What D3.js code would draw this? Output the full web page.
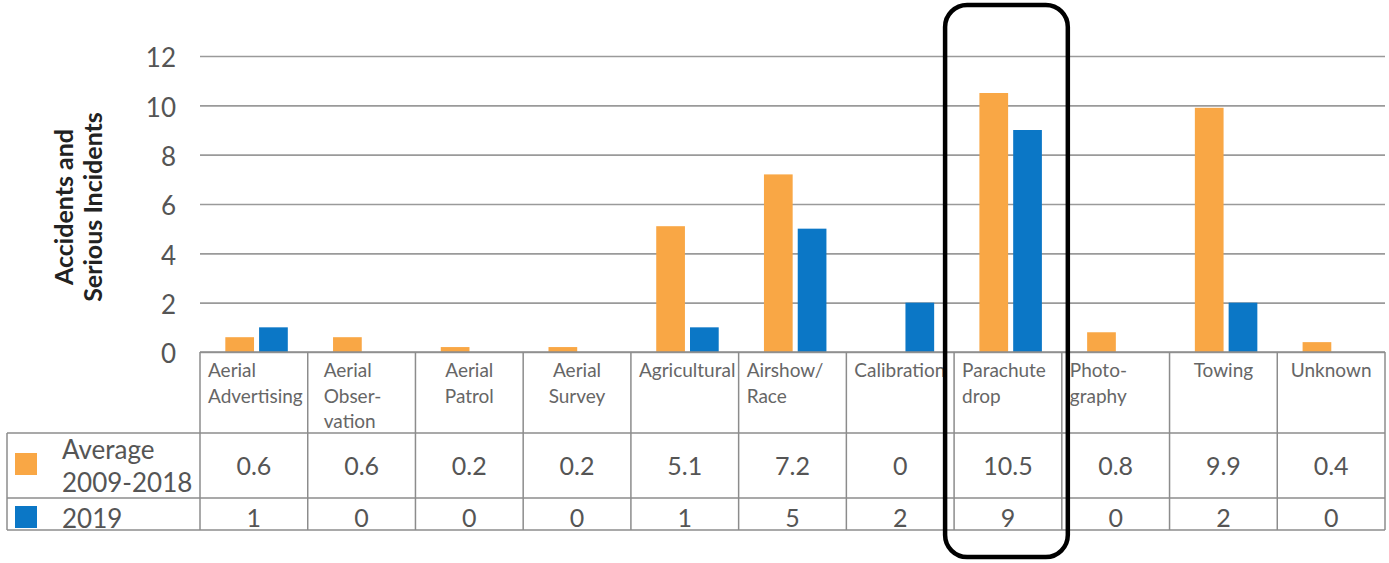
<!DOCTYPE html>
<html>
<meta charset="UTF-8">
<script src="https://d3js.org/d3.v7.min.js"></script>
<style>
  body { margin: 0; background: #fff; }
  text { font-family: Lato, "Open Sans", sans-serif; }
</style>
<body>
<svg id="ch" width="1389" height="563"></svg>
<script>

// data
var categories = ["Aerial Advertising", "Aerial Observation", "Aerial Patrol", "Aerial Survey",
  "Agricultural", "Airshow/Race", "Calibration", "Parachute drop", "Photography", "Towing", "Unknown"];
var headerLines = [["Aerial", "Advertising"], ["Aerial", "Obser-", "vation"], ["Aerial", "Patrol"],
  ["Aerial", "Survey"], ["Agricultural"], ["Airshow/", "Race"], ["Calibration"], ["Parachute", "drop"],
  ["Photo-", "graphy"], ["Towing"], ["Unknown"]];
var avg2009_2018 = [0.6, 0.6, 0.2, 0.2, 5.1, 7.2, 0, 10.5, 0.8, 9.9, 0.4];
var y2019 = [1, 0, 0, 0, 1, 5, 2, 9, 0, 2, 0];
var seriesNames = ["Average 2009-2018", "2019"];
var yTicks = [0, 2, 4, 6, 8, 10, 12];
var highlighted = "Parachute drop";

var colors = ["#F9A745", "#0B77C6"];
var lineCol = "#8c8c8c";

var svg = d3.select("#ch");

var left = 200, right = 1385;
var y0 = 352, row1 = 433, row2 = 498, bottom = 530;

var x = d3.scaleBand().domain(categories).range([left, right]).padding(0);
var bw = x.bandwidth();
var x1 = d3.scaleBand().domain(seriesNames).range([bw * 0.235, bw * 0.815]).paddingInner(0.15);
var y = d3.scaleLinear().domain([0, 12]).range([y0, 56]);

// gridlines + tick labels
var yAxis = svg.append("g")
  .attr("transform", "translate(" + left + ",0)")
  .call(d3.axisLeft(y).tickValues(yTicks).tickSize(-(right - left)).tickPadding(24));
yAxis.select(".domain").remove();
yAxis.selectAll(".tick line").attr("stroke", "#9a9a9a").attr("stroke-width", 1.6);
yAxis.selectAll(".tick text")
  .attr("font-size", 26).attr("fill", "#555").attr("dy", "0.42em")
  .style("font-family", "Lato, sans-serif");

// axis title
svg.append("text")
  .attr("transform", "translate(73,207) rotate(-90)")
  .attr("text-anchor", "middle").attr("font-size", 25).attr("font-weight", "bold").attr("fill", "#222")
  .text("Accidents and");
svg.append("text")
  .attr("transform", "translate(102,207) rotate(-90)")
  .attr("text-anchor", "middle").attr("font-size", 25).attr("font-weight", "bold").attr("fill", "#222")
  .text("Serious Incidents");

// bars
var rows = categories.map(function (c, i) {
  return { cat: c, vals: [avg2009_2018[i], y2019[i]] };
});
var groups = svg.append("g").selectAll("g").data(rows).join("g")
  .attr("transform", function (d) { return "translate(" + x(d.cat) + ",0)"; });
groups.selectAll("rect")
  .data(function (d) { return d.vals.map(function (v, j) { return { s: seriesNames[j], v: v, j: j }; }); })
  .join("rect")
  .attr("x", function (d) { return x1(d.s); })
  .attr("width", x1.bandwidth())
  .attr("y", function (d) { return y(d.v); })
  .attr("height", function (d) { return y0 - y(d.v); })
  .attr("fill", function (d) { return colors[d.j]; });

// table
var tbl = svg.append("g").attr("stroke", lineCol).attr("stroke-width", 1.5);
[row1, row2, bottom].forEach(function (yy) {
  tbl.append("line").attr("x1", 7).attr("x2", right).attr("y1", yy).attr("y2", yy);
});
tbl.append("line").attr("x1", left).attr("x2", right).attr("y1", y0).attr("y2", y0);
tbl.append("line").attr("x1", 7).attr("x2", 7).attr("y1", row1).attr("y2", bottom);
categories.concat([null]).forEach(function (c) {
  var xx = c ? x(c) : right;
  tbl.append("line").attr("x1", xx).attr("x2", xx).attr("y1", y0).attr("y2", bottom);
});

// header labels, clipped to their cell
var centred = ["Aerial Patrol", "Aerial Survey", "Towing", "Unknown"];
var defs = svg.append("defs");
categories.forEach(function (c, i) {
  defs.append("clipPath").attr("id", "cl" + i)
    .append("rect").attr("x", x(c) + 1).attr("y", y0).attr("width", bw - 2).attr("height", row1 - y0);
  var mid = centred.indexOf(c) >= 0;
  var t = svg.append("text")
    .attr("clip-path", "url(#cl" + i + ")")
    .attr("font-size", 19).attr("fill", "#666")
    .attr("text-anchor", mid ? "middle" : "start");
  headerLines[i].forEach(function (ln, k) {
    t.append("tspan")
      .attr("x", mid ? x(c) + bw / 2 : x(c) + (c === "Aerial Observation" ? 16 : 8))
      .attr("y", 377 + k * 25.5)
      .text(ln);
  });
});

// values
svg.append("g").selectAll("text").data(avg2009_2018).join("text")
  .attr("x", function (d, i) { return x(categories[i]) + bw / 2; })
  .attr("y", 475).attr("text-anchor", "middle").attr("font-size", 25).attr("fill", "#555")
  .text(function (d) { return d; });
svg.append("g").selectAll("text").data(y2019).join("text")
  .attr("x", function (d, i) { return x(categories[i]) + bw / 2; })
  .attr("y", 527).attr("text-anchor", "middle").attr("font-size", 25).attr("fill", "#555")
  .text(function (d) { return d; });

// legend cells
svg.append("rect").attr("x", 15).attr("y", 453).attr("width", 22).attr("height", 22).attr("fill", colors[0]);
svg.append("rect").attr("x", 15).attr("y", 506).attr("width", 22).attr("height", 22).attr("fill", colors[1]);
var lt = svg.append("text").attr("font-size", 26).attr("fill", "#555");
lt.append("tspan").attr("x", 62).attr("y", 459).text("Average");
lt.append("tspan").attr("x", 62).attr("y", 492).text("2009-2018");
svg.append("text").attr("x", 62).attr("y", 528).attr("font-size", 26).attr("fill", "#555").text("2019");

// highlight box
svg.append("rect")
  .attr("x", x(highlighted) - 9).attr("y", 5)
  .attr("width", bw + 15).attr("height", 552)
  .attr("rx", 22)
  .attr("fill", "none").attr("stroke", "#000").attr("stroke-width", 4.5);

</script>
</body>
</html>
